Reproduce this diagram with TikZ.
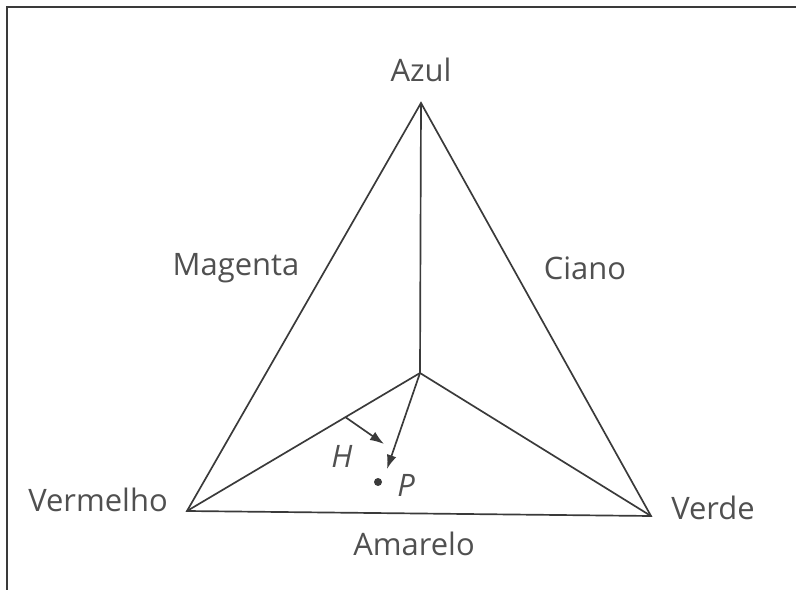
\documentclass[tikz,border=0pt]{standalone}
\usepackage{fontspec}
\setmainfont{Open Sans}
\usepackage{tikz}
\usetikzlibrary{arrows.meta,positioning,calc}
\definecolor{InkGray}{HTML}{3a3a3a}
\definecolor{TextGray}{HTML}{505050}

\tikzset{
  edge/.style={draw=InkGray, line width=1.2pt},
  vec/.style={draw=InkGray, line width=1.2pt, -{Latex[length=10pt,width=7pt]}},
  lbl/.style={text=TextGray, font=\fontsize{22}{26}\selectfont, inner sep=0pt},
}

\begin{document}
\begin{tikzpicture}[x=0.025cm, y=-0.025cm]
    \useasboundingbox (0,0) rectangle (796,590);
    % frame (top and left only)
    \draw[InkGray, line width=1.4pt] (7,590) -- (7,7) -- (796,7);

    % vertices of the triangle
    \coordinate (azul) at (421,103);
    \coordinate (red) at (187,511);
    \coordinate (green) at (651,516);
    \coordinate (white) at (420,373);
    \coordinate (hstart) at ($(red)!0.68!(white)$);
    \coordinate (hend) at (384,444);
    \coordinate (ptip) at (387,469);

    \draw[edge] (azul) -- (red) -- (green) -- cycle;
    \draw[edge] (white) -- (azul);
    \draw[edge] (white) -- (red);
    \draw[edge] (white) -- (green);

    \draw[vec] (hstart) -- (hend);
    \draw[vec] (white) -- (ptip);
    \fill[InkGray] (378,482) circle (4);

    % labels
    \node[lbl] (azullbl) at (421,70) {Azul};
    \node[lbl] (maglbl) at (236,268) {Magenta};
    \node[lbl] (cianlbl) at (585,268) {Ciano};
    \node[lbl] (redlbl) at (98,500) {Vermelho};
    \node[lbl] (greenlbl) at (713,508) {Verde};
    \node[lbl] (yellbl) at (414,544) {Amarelo};
    \node[lbl, font=\fontsize{22}{26}\selectfont\itshape] (hlbl) at (342,456) {H};
    \node[lbl, font=\fontsize{22}{26}\selectfont\itshape] (plbl) at (406,485) {P};
\end{tikzpicture}
\end{document}
